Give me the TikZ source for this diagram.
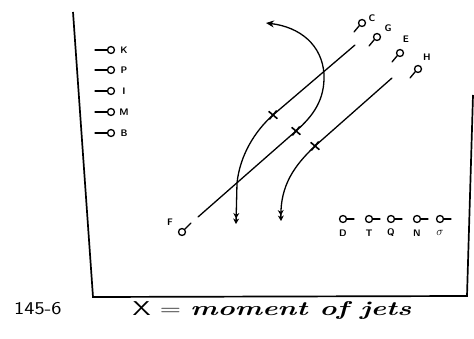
\documentclass[tikz,border=0pt]{standalone}
\usetikzlibrary{arrows.meta,shapes.misc}
\begin{document}
\begin{tikzpicture}[x=1pt,y=-1pt,
  ink/.style={line width=1.3pt,line cap=round},
  frame/.style={line width=1.7pt},
  pinball/.style={circle,draw,line width=1.3pt,minimum size=7pt,inner sep=0pt},
  pinlab/.style={font=\fontsize{9.5}{9.5}\selectfont\sffamily\bfseries,inner sep=0pt},
  tick/.style={cross out,draw,line width=1.6pt,minimum size=6.5pt,inner sep=0pt},
  dbl/.style={-{Stealth[length=5.5pt,width=6pt]Stealth[length=5.5pt,width=6pt]}},
  single/.style={-{Stealth[length=8pt,width=7pt]}}]
\useasboundingbox (0,0) rectangle (474,339);
% frame
\coordinate (tl) at (73,12);
\coordinate (bl) at (93,297);
\coordinate (br) at (467,296);
\coordinate (tr) at (473,95);
\draw[frame] (tl) -- (bl) -- (br) -- (tr);
% left pins
\foreach \n/\y/\t in {K/50/K,P/70/P,I/91/I,M/112/M,B/133/B}{
  \node[pinball] (\n) at (111,\y) {};
  \coordinate (\n s) at (95,\y);
  \draw[ink] (\n s) -- (\n.west);
  \node[pinlab] (\n l) at (124,\y) {\t};
}
% bottom pins
\foreach \n/\x/\t in {D/343/D,T/369/T,Q/391/Q,N/417/N,S/440/{\fontsize{12}{12}\selectfont$\sigma$}}{
  \node[pinball] (\n) at (\x,219) {};
  \coordinate (\n s) at (\x+11,219);
  \draw[ink] (\n.east) -- (\n s);
  \node[pinlab] (\n l) at (\x,233) {\t};
}
% diagonal pins
\foreach \n/\x/\y/\lx/\ly in {C/362/23/372/18,G/377/37/388/28,E/400/53/406/39,H/418/69/427/57}{
  \node[pinball] (\n) at (\x,\y) {};
  \coordinate (\n s) at (\x-8,\y+9);
  \draw[ink] (\n s) -- (\n.225);
  \node[pinlab] (\n l) at (\lx,\ly) {\n};
}
\node[pinball] (F) at (182,232) {};
\coordinate (Fs) at (191,223);
\draw[ink] (F.45) -- (Fs);
\node[pinlab] (Fl) at (170,222) {F};
% curves
\coordinate (a1) at (355,45);
\coordinate (a2) at (273,115);
\coordinate (a3) at (237,183);
\coordinate (a4) at (236,224);
\coordinate (b1) at (198,217);
\coordinate (b2) at (296,131);
\coordinate (b3) at (324,74);
\coordinate (b4) at (266,23);
\coordinate (c1) at (392,78);
\coordinate (c2) at (315,146);
\coordinate (c3) at (281,221);
\draw[ink,single] (b1) -- (b2) .. controls (313,116) and (325,100) .. (b3)
  .. controls (322,45) and (300,27) .. (b4);
\draw[ink,dbl] (a1) -- (a2) .. controls (255,131) and (240,155) .. (a3) -- (a4);
\draw[ink,dbl] (c1) -- (c2) .. controls (295,165) and (280,185) .. (c3);
\node[tick,rotate=5] (m1) at (a2) {};
\node[tick,rotate=5] (m2) at (b2) {};
\node[tick,rotate=5] (m3) at (c2) {};
% captions
\node[inner sep=0pt,anchor=west] (num) at (14,309) {\scalebox{1.2}[1]{\fontsize{18}{18}\selectfont\sffamily 145-6}};
\node[inner sep=0pt] (cap) at (272,310) {\scalebox{1.45}[1]{\fontsize{20}{20}\selectfont\sffamily X = \rmfamily\bfseries\itshape moment of jets}};
\end{tikzpicture}
\end{document}
